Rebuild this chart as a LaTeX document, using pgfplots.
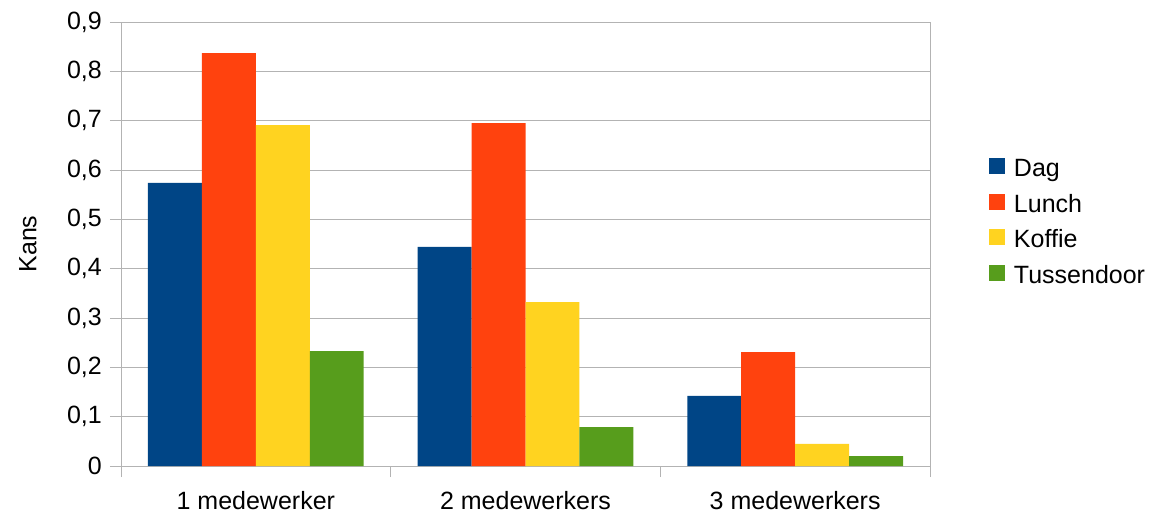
\documentclass[border=0pt]{standalone}
\usepackage{fontspec}
\setmainfont{Liberation Sans}
\usepackage{pgfplots}
\pgfplotsset{compat=1.18}

\definecolor{cDag}{HTML}{004586}
\definecolor{cLunch}{HTML}{FF420E}
\definecolor{cKoffie}{HTML}{FFD320}
\definecolor{cTuss}{HTML}{579D1C}
\definecolor{gridgray}{HTML}{B3B3B3}

\begin{document}
\begin{tikzpicture}
\useasboundingbox (-121bp,-47bp) rectangle (1037bp,466bp);
\begin{axis}[
  at={(0,0)}, anchor=south west,
  scale only axis,
  width=809bp, height=444bp,
  xmin=-0.5, xmax=2.5,
  ymin=0, ymax=0.9,
  ytick={0,0.1,...,0.9},
  xtick={0,1,2},
  xticklabels={1 medewerker,2 medewerkers,3 medewerkers},
  minor xtick={-0.5,0.5,1.5,2.5},
  major x tick style={draw=none},
  tick pos=left,
  tick align=outside,
  major tick length=11bp,
  minor tick length=11bp,
  every tick/.style={gridgray, line width=1pt},
  axis line style={gridgray, line width=1pt},
  ymajorgrids,
  major grid style={gridgray, line width=1pt},
  font=\fontsize{25bp}{30bp}\selectfont,
  /pgf/number format/.cd, use comma, fixed, precision=1, assume math mode=true,
  /pgfplots/.cd,
  yticklabel style={inner sep=0pt, xshift=-8bp},
  xticklabel style={inner sep=0pt, yshift=-14bp},
  ylabel={Kans},
  ylabel style={at={(axis description cs:-0.115,0.5)}, anchor=center},
  ybar, bar width=0.2,
  legend style={
    at={(axis description cs:1.0729,0.547)}, anchor=west,
    draw=none, fill=none, inner sep=0pt, outer sep=0pt,
    row sep=12bp, column sep=9bp,
    nodes={inner sep=0pt, text height=18bp, text depth=5bp, anchor=west},
    font=\fontsize{25bp}{30bp}\selectfont,
  },
  legend cell align=left,
  legend image code/.code={\fill[#1] (0bp,-4bp) rectangle (16bp,12bp);},
]
\addplot[fill=cDag, draw=none, bar shift=-0.3] coordinates {(0,0.574) (1,0.444) (2,0.142)};
\addplot[fill=cLunch, draw=none, bar shift=-0.1] coordinates {(0,0.837) (1,0.695) (2,0.231)};
\addplot[fill=cKoffie, draw=none, bar shift=0.1] coordinates {(0,0.691) (1,0.332) (2,0.045)};
\addplot[fill=cTuss, draw=none, bar shift=0.3] coordinates {(0,0.233) (1,0.079) (2,0.020)};
\legend{Dag,Lunch,Koffie,Tussendoor}
\end{axis}
\end{tikzpicture}
\end{document}
